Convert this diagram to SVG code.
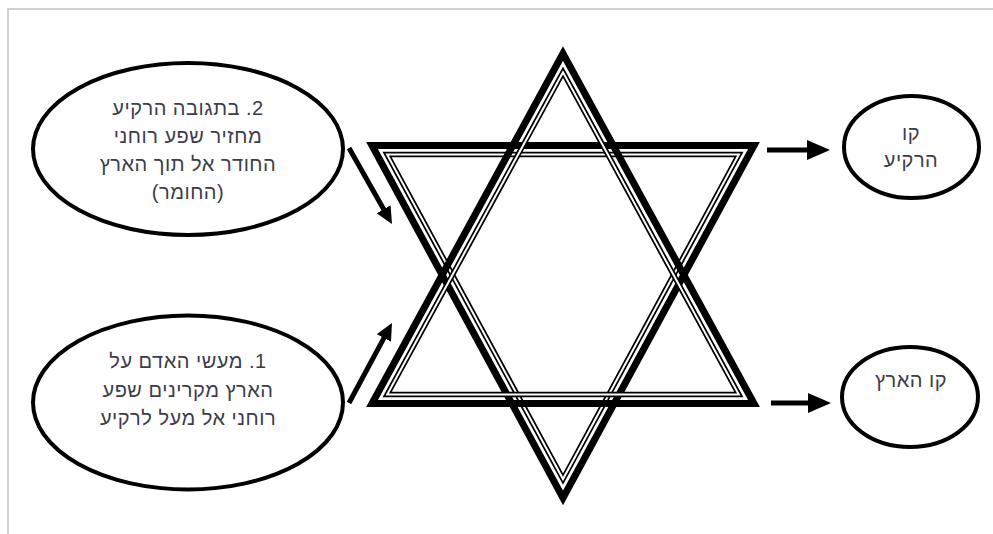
<svg xmlns="http://www.w3.org/2000/svg" width="993" height="534" viewBox="0 0 993 534">
<style>
.frame{stroke:#d0d0d0;stroke-width:2;fill:none}
.thick{fill:none;stroke:#000;stroke-width:7;stroke-linejoin:miter;stroke-miterlimit:10}
.dblo{fill:none;stroke:#000;stroke-width:5.5;stroke-linejoin:miter;stroke-miterlimit:10}
.dbli{fill:none;stroke:#fff;stroke-width:2;stroke-linejoin:miter;stroke-miterlimit:10}
.oval{fill:#fff;stroke:#000;stroke-width:4}
.lbl{font-family:"Liberation Sans","DejaVu Sans",sans-serif;font-size:20px;letter-spacing:0.5px;fill:#3c3c4a;text-anchor:middle;direction:rtl;unicode-bidi:embed}
.shaft{stroke:#000;stroke-width:5;fill:none}
</style>
<defs>
<marker id="headS" markerUnits="userSpaceOnUse" markerWidth="18" markerHeight="16" refX="1" refY="8" orient="auto">
<path d="M0,0 L17,8 L0,16 z" fill="#000"/>
</marker>
<marker id="headL" markerUnits="userSpaceOnUse" markerWidth="24" markerHeight="20" refX="1" refY="10" orient="auto">
<path d="M0,0 L23,10 L0,20 z" fill="#000"/>
</marker>
</defs>
<rect width="993" height="534" fill="#fff"/>
<path class="frame" d="M8,534 L8,9 L993,9"/>

<g id="star">
<g id="tri-down">
<polygon class="thick" points="372,145.5 754,145.5 563,498"/>
<polygon class="dblo" points="387.1,154.5 738.9,154.5 563,479.1"/>
<polygon class="dbli" points="387.1,154.5 738.9,154.5 563,479.1"/>
</g>
<g id="tri-up">
<polygon class="thick" points="563,53.5 372,403.5 754,403.5"/>
<polygon class="dblo" points="563,72.3 387.2,394.5 738.8,394.5"/>
<polygon class="dbli" points="563,72.3 387.2,394.5 738.8,394.5"/>
</g>
</g>

<g id="connectors">
<line class="shaft" x1="349" y1="148" x2="384.1" y2="210.1" marker-end="url(#headS)"/>
<line class="shaft" x1="349" y1="403" x2="384.4" y2="337.1" marker-end="url(#headS)"/>
<line class="shaft" x1="767" y1="150" x2="808" y2="150" marker-end="url(#headL)"/>
<line class="shaft" x1="771" y1="403" x2="809" y2="403" marker-end="url(#headL)"/>
</g>

<g id="node-return">
<ellipse class="oval" cx="188" cy="149" rx="155" ry="86"/>
<text class="lbl" x="188" y="115">2. בתגובה הרקיע</text>
<text class="lbl" x="188" y="143">מחזיר שפע רוחני</text>
<text class="lbl" x="188" y="171">החודר אל תוך הארץ</text>
<text class="lbl" x="188" y="199">(החומר)</text>
</g>

<g id="node-deeds">
<ellipse class="oval" cx="188" cy="402.5" rx="155" ry="87"/>
<text class="lbl" x="188" y="368">1. מעשי האדם על</text>
<text class="lbl" x="188" y="397">הארץ מקרינים שפע</text>
<text class="lbl" x="188" y="425">רוחני אל מעל לרקיע</text>
</g>

<g id="node-sky">
<ellipse class="oval" cx="911.5" cy="147" rx="67.5" ry="51"/>
<text class="lbl" x="911" y="140">קו</text>
<text class="lbl" x="911" y="167">הרקיע</text>
</g>

<g id="node-earth">
<ellipse class="oval" cx="910" cy="397" rx="68" ry="50"/>
<text class="lbl" x="911" y="387">קו הארץ</text>
</g>
</svg>
